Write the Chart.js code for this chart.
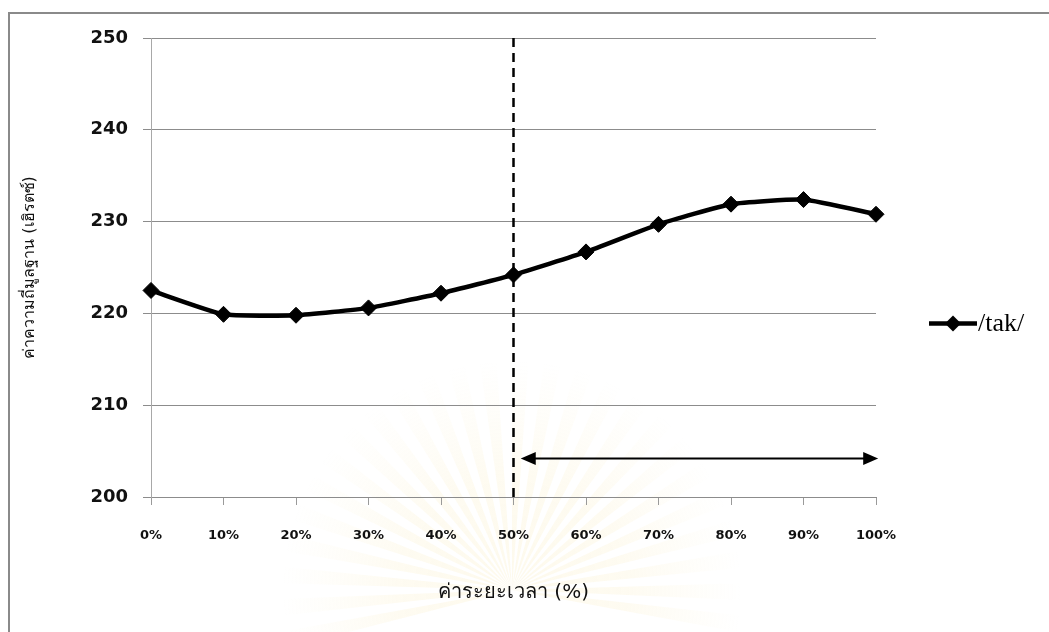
<!DOCTYPE html>
<html>
<head>
<meta charset="utf-8">
<script src="https://cdn.jsdelivr.net/npm/chart.js@4.4.1/dist/chart.umd.min.js"></script>
<style>
  html, body { margin: 0; padding: 0; background: #ffffff; }
  #wrap { position: relative; width: 1049px; height: 632px; overflow: hidden; }
  #frame { position: absolute; left: 8px; top: 12px; width: 1100px; height: 700px;
           border-left: 2px solid #8a8a8a; border-top: 2px solid #8a8a8a; pointer-events: none; }
  canvas { position: absolute; left: 0; top: 0; }
</style>
</head>
<body>
<div id="wrap">
  <canvas id="c" width="1049" height="632"></canvas>
  <div id="frame"></div>
</div>
<script>
// Relative position within the syllable (percent of duration)
const categories = ['0%', '10%', '20%', '30%', '40%', '50%', '60%', '70%', '80%', '90%', '100%'];
// Mean fundamental frequency (Hz) of /tak/
const takF0 = [222.5, 219.9, 219.8, 220.6, 222.2, 224.2, 226.7, 229.7, 231.9, 232.4, 230.8];
const yTicks = [200, 210, 220, 230, 240, 250];
const seriesName = '/tak/';
const yTitle = 'ค่าความถี่มูลฐาน (เฮิรตซ์)';
const xTitle = 'ค่าระยะเวลา (%)';
// Boundary at 50% and the span arrow that follows it
const boundaryIndex = 5;
const spanFrom = 5.1;
const spanTo = 10.03;
const spanLevel = 204.2;

// Faint emblem rays behind the chart
const emblemRays = {
  id: 'emblemRays',
  beforeDraw(chart) {
    const ctx = chart.ctx;
    ctx.save();
    const cx = 512, cy = 590, R = 230;
    const n = 26;
    for (let i = 0; i < n; i++) {
      const a0 = Math.PI * 0.92 + (i / n) * Math.PI * 1.16;
      const a1 = a0 + Math.PI / n * 0.6;
      const g = ctx.createRadialGradient(cx, cy, 0, cx, cy, R);
      g.addColorStop(0, 'rgba(246, 222, 140, 0.16)');
      g.addColorStop(0.5, 'rgba(246, 222, 140, 0.12)');
      g.addColorStop(1, 'rgba(246, 228, 160, 0.0)');
      ctx.fillStyle = g;
      ctx.beginPath();
      ctx.moveTo(cx, cy);
      ctx.lineTo(cx + Math.cos(a0) * R, cy + Math.sin(a0) * R);
      ctx.lineTo(cx + Math.cos(a1) * R, cy + Math.sin(a1) * R);
      ctx.closePath();
      ctx.fill();
    }
    ctx.restore();
  }
};

// Dashed boundary line and the double-headed arrow
const boundaryMarks = {
  id: 'boundaryMarks',
  afterDatasetsDraw(chart) {
    const {ctx, chartArea, scales: {x, y}} = chart;
    ctx.save();
    const bx = x.getPixelForValue(boundaryIndex);
    ctx.strokeStyle = '#000';
    ctx.lineWidth = 2.5;
    ctx.setLineDash([9, 6]);
    ctx.beginPath();
    ctx.moveTo(bx, chartArea.top);
    ctx.lineTo(bx, chartArea.bottom);
    ctx.stroke();
    ctx.setLineDash([]);

    const x0 = x.getPixelForValue(spanFrom);
    const x1 = x.getPixelForValue(spanTo);
    const ay = y.getPixelForValue(spanLevel);
    const head = 15, hw = 6.5;
    ctx.lineWidth = 2;
    ctx.beginPath();
    ctx.moveTo(x0 + head - 2, ay);
    ctx.lineTo(x1 - head + 2, ay);
    ctx.stroke();
    ctx.fillStyle = '#000';
    ctx.beginPath();
    ctx.moveTo(x0, ay); ctx.lineTo(x0 + head, ay - hw); ctx.lineTo(x0 + head, ay + hw); ctx.closePath();
    ctx.fill();
    ctx.beginPath();
    ctx.moveTo(x1, ay); ctx.lineTo(x1 - head, ay - hw); ctx.lineTo(x1 - head, ay + hw); ctx.closePath();
    ctx.fill();
    ctx.restore();
  }
};

// Legend entry on the right: line with diamond and the series name
const sideLegend = {
  id: 'sideLegend',
  afterDraw(chart) {
    const ctx = chart.ctx;
    const ds = chart.data.datasets[0];
    const ly = (chart.chartArea.top + chart.chartArea.bottom) / 2 + 56;
    const lx0 = 929, lx1 = 977;
    ctx.save();
    ctx.strokeStyle = ds.borderColor;
    ctx.lineWidth = ds.borderWidth;
    ctx.beginPath();
    ctx.moveTo(lx0, ly);
    ctx.lineTo(lx1, ly);
    ctx.stroke();
    const mx = (lx0 + lx1) / 2, r = ds.pointRadius;
    ctx.fillStyle = ds.pointBackgroundColor;
    ctx.beginPath();
    ctx.moveTo(mx, ly - r); ctx.lineTo(mx + r, ly); ctx.lineTo(mx, ly + r); ctx.lineTo(mx - r, ly);
    ctx.closePath();
    ctx.fill();
    ctx.fillStyle = '#000';
    ctx.font = '26px "Liberation Serif", "DejaVu Serif", serif';
    ctx.textBaseline = 'middle';
    ctx.textAlign = 'left';
    ctx.fillText(seriesName, lx1 + 1, ly + 1);
    ctx.restore();
  }
};

new Chart(document.getElementById('c'), {
  type: 'line',
  data: {
    labels: categories,
    datasets: [{
      label: seriesName,
      data: takF0,
      borderColor: '#000000',
      backgroundColor: '#000000',
      borderWidth: 4.5,
      tension: 0.15,
      pointStyle: 'rectRot',
      pointRadius: 8,
      pointBackgroundColor: '#000000',
      pointBorderColor: '#000000',
      pointBorderWidth: 1,
      fill: false
    }]
  },
  options: {
    responsive: false,
    animation: false,
    events: [],
    layout: { padding: { top: 38, right: 173, left: 0, bottom: 0 } },
    plugins: { legend: { display: false }, tooltip: { enabled: false } },
    scales: {
      x: {
        type: 'category',
        offset: false,
        afterFit(s) { s.height = 135; },
        grid: { drawOnChartArea: false, drawTicks: true, tickLength: 8, color: '#9a9a9a', lineWidth: 1 },
        border: { display: true, color: '#8c8c8c', width: 1 },
        ticks: { color: '#111', padding: 23, maxRotation: 0, autoSkip: false,
                 font: { family: '"DejaVu Sans", Verdana, sans-serif', size: 13, weight: 'bold' } },
        title: { display: true, text: xTitle, color: '#111',
                 font: { family: '"DejaVu Sans", "Noto Sans", sans-serif', size: 20 },
                 padding: { top: 0, bottom: 27 } }
      },
      y: {
        min: 200, max: 250,
        afterFit(s) { s.width = 151; },
        afterBuildTicks(s) { s.ticks = yTicks.map(v => ({ value: v })); },
        grid: { color: '#8c8c8c', lineWidth: 1, tickLength: 8, drawTicks: true },
        border: { display: true, color: '#a8a8a8', width: 1 },
        ticks: { color: '#111', padding: 15,
                 font: { family: '"DejaVu Sans", Verdana, sans-serif', size: 18, weight: 'bold' } },
        title: { display: true, text: yTitle, color: '#111',
                 font: { family: '"DejaVu Sans", "Noto Sans", sans-serif', size: 16 },
                 padding: { top: 20, bottom: 0 } }
      }
    }
  },
  plugins: [emblemRays, boundaryMarks, sideLegend]
});
</script>
</body>
</html>
